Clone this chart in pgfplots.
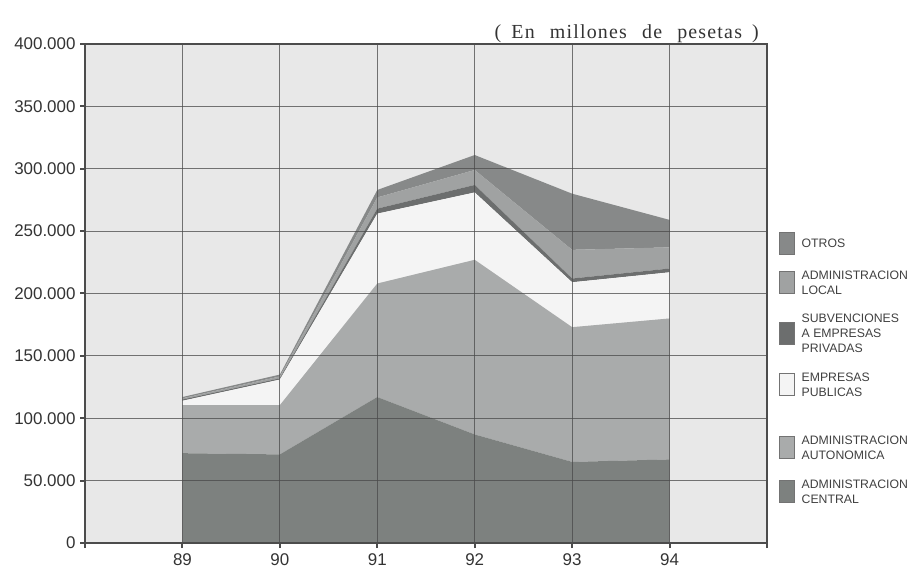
\documentclass[border=0pt]{standalone}
\usepackage{fontspec}
\setmainfont{Liberation Sans}
\newfontfamily\seriffont[LetterSpace=6]{Liberation Serif}
\usepackage{pgfplots}
\pgfplotsset{compat=1.18}
\definecolor{bggray}{HTML}{E8E8E8}
\definecolor{gridc}{HTML}{4A4A4A}
\definecolor{cCentral}{HTML}{7D817F}
\definecolor{cAuton}{HTML}{A9ABAB}
\definecolor{cPubl}{HTML}{F4F4F4}
\definecolor{cSubv}{HTML}{6C6E6E}
\definecolor{cLocal}{HTML}{A0A2A2}
\definecolor{cOtros}{HTML}{878989}
\definecolor{txt}{HTML}{333333}
\begin{document}
\begin{tikzpicture}
\useasboundingbox (0,0) rectangle (911bp,574bp);
\begin{axis}[
  name=ax,
  at={(85bp,31bp)}, anchor=south west,
  width=682bp, height=499bp, scale only axis,
  xmin=88, xmax=95, ymin=0, ymax=400000,
  scaled y ticks=false,
  xtick={88,89,90,91,92,93,94,95},
  xticklabels={,89,90,91,92,93,94,},
  ytick={0,50000,100000,150000,200000,250000,300000,350000,400000},
  yticklabels={0,50.000,100.000,150.000,200.000,250.000,300.000,350.000,400.000},
  xtick pos=bottom, ytick pos=left,
  stack plots=y,
  axis background/.style={fill=bggray},
  axis on top,
  grid=major,
  major grid style={draw=gridc, line width=1bp, opacity=0.75},
  axis line style={draw=black!70, line width=2bp},
  tick align=outside, major tick length=5bp,
  tick style={draw=black!70, line width=2bp},
  tick label style={font=\fontsize{17}{19}\selectfont, text=txt},
  xticklabel style={yshift=-2.5bp},
  yticklabel style={xshift=-1bp},
  legend style={at={(axis description cs:1,0.628)}, anchor=north west, xshift=9bp,
    draw=none, fill=none, font=\fontsize{12.3}{15}\selectfont, text=black!75,
    row sep=14.5bp, column sep=5bp, cells={align=left, anchor=west}},
  reverse legend,
  legend image code/.code={\draw[#1, draw=black!55, line width=0.5bp] (0bp,-10bp) rectangle (15bp,12bp);},
]
\addplot[fill=cCentral, draw=none] coordinates {(89,72000) (90,71000) (91,117000) (92,87000) (93,65000) (94,67000)} \closedcycle;
\addlegendentry{ADMINISTRACION\\CENTRAL}
\addplot[fill=cAuton, draw=none] coordinates {(89,38600) (90,39500) (91,91000) (92,140000) (93,108000) (94,113000)} \closedcycle;
\addlegendentry{ADMINISTRACION\\AUTONOMICA}
\addlegendimage{empty legend}
\addlegendentry{}
\addplot[fill=cPubl, draw=none] coordinates {(89,3400) (90,20500) (91,56000) (92,54000) (93,36000) (94,37000)} \closedcycle;
\addlegendentry{EMPRESAS\\PUBLICAS}
\addplot[fill=cSubv, draw=none] coordinates {(89,1000) (90,1000) (91,4000) (92,6000) (93,3000) (94,3000)} \closedcycle;
\addlegendentry{SUBVENCIONES\\A EMPRESAS\\PRIVADAS}
\addplot[fill=cLocal, draw=none] coordinates {(89,1000) (90,1500) (91,9000) (92,12000) (93,23000) (94,17000)} \closedcycle;
\addlegendentry{ADMINISTRACION\\LOCAL}
\addplot[fill=cOtros, draw=none] coordinates {(89,1000) (90,1500) (91,6000) (92,12000) (93,45000) (94,22000)} \closedcycle;
\addlegendentry{OTROS}
\end{axis}
\node[anchor=base east, font=\seriffont\fontsize{20}{22}\selectfont, text=txt, inner sep=0pt] at ([xshift=-8bp, yshift=5bp]ax.north east) {(\hspace{4bp} En\hspace{9bp} millones\hspace{9bp} de\hspace{9bp} pesetas\hspace{4bp} )};
\end{tikzpicture}
\end{document}
